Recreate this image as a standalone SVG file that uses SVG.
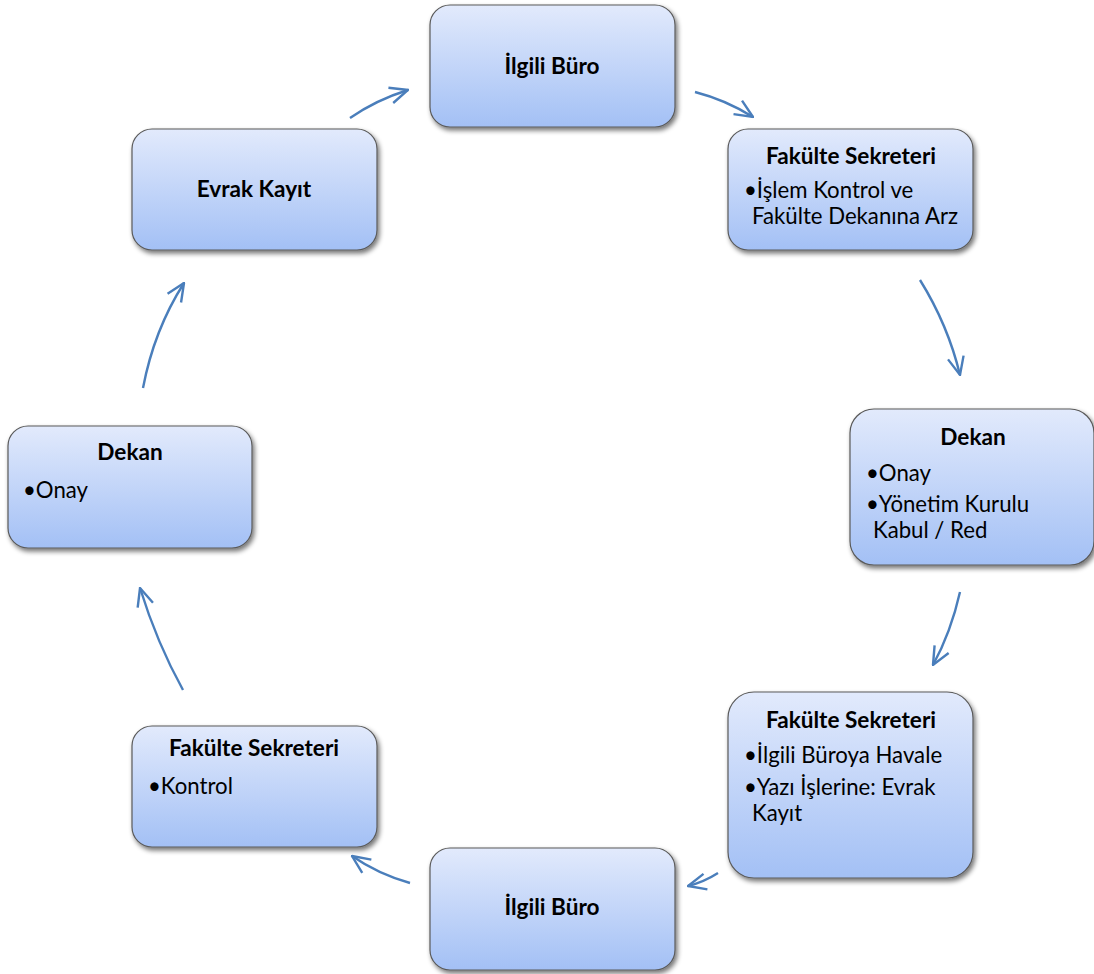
<svg xmlns="http://www.w3.org/2000/svg" width="1094" height="974" viewBox="0 0 1094 974">
<defs>
<linearGradient id="g" x1="0" y1="0" x2="0" y2="1">
<stop offset="0" stop-color="#e2eafc"/>
<stop offset="1" stop-color="#a3c0f5"/>
</linearGradient>
<filter id="sh" x="-10%" y="-10%" width="125%" height="130%">
<feGaussianBlur in="SourceAlpha" stdDeviation="2.5"/>
<feOffset dx="2" dy="3" result="b"/>
<feComponentTransfer><feFuncA type="linear" slope="0.55"/></feComponentTransfer>
<feMerge><feMergeNode/><feMergeNode in="SourceGraphic"/></feMerge>
</filter>
<marker id="ah" viewBox="0 0 20 20" refX="19" refY="10" markerWidth="20" markerHeight="20" markerUnits="userSpaceOnUse" orient="auto">
<path d="M1,2 L19,10 L1,18" fill="none" stroke="#4a7ebb" stroke-width="2.4" stroke-linejoin="miter"/>
</marker>
</defs>
<style>
.box{fill:url(#g);stroke:#5a5a5a;stroke-width:1.2;filter:url(#sh)}
.t{font-family:Lato,"Liberation Sans",sans-serif;font-weight:bold;font-size:22.6px;fill:#000}
.b{font-family:Lato,"Liberation Sans",sans-serif;font-size:22.2px;fill:#000}
.c{fill:none;stroke:#4a7ebb;stroke-width:2.4;marker-end:url(#ah)}
</style>
<rect width="1094" height="974" fill="#fff"/>
<g id="connectors">
<path class="c" d="M350,118 Q376,100 408,90"/>
<path class="c" d="M695,92 Q726,100 753,117"/>
<path class="c" d="M920,280 Q948,325 960,375"/>
<path class="c" d="M960,592 Q951,632 933,665"/>
<path class="c" d="M718,873 Q704,882 688,886"/>
<path class="c" d="M410,883 Q378,874 352,856"/>
<path class="c" d="M183,690 Q157,643 140,588"/>
<path class="c" d="M143,388 Q154,330 184,283"/>
</g>
<g id="n1">
<rect class="box" x="430" y="5" width="245" height="122" rx="20"/>
<text class="t" x="552" y="74" text-anchor="middle">İlgili Büro</text>
</g>
<g id="n2">
<rect class="box" x="728" y="129" width="245" height="121" rx="20"/>
<text class="t" x="851" y="164" text-anchor="middle">Fakülte Sekreteri</text>
<text class="b" x="744" y="198">•İşlem Kontrol ve</text>
<text class="b" x="752" y="224">Fakülte Dekanına Arz</text>
</g>
<g id="n3">
<rect class="box" x="850" y="409" width="244" height="156" rx="24"/>
<text class="t" x="973" y="445" text-anchor="middle">Dekan</text>
<text class="b" x="866" y="481">•Onay</text>
<text class="b" x="866" y="512">•Yönetim Kurulu</text>
<text class="b" x="873" y="538">Kabul / Red</text>
</g>
<g id="n4">
<rect class="box" x="728" y="692" width="245" height="186" rx="26"/>
<text class="t" x="851" y="728" text-anchor="middle">Fakülte Sekreteri</text>
<text class="b" x="744" y="763">•İlgili Büroya Havale</text>
<text class="b" x="744" y="795">•Yazı İşlerine: Evrak</text>
<text class="b" x="752" y="821">Kayıt</text>
</g>
<g id="n5">
<rect class="box" x="430" y="848" width="245" height="122" rx="20"/>
<text class="t" x="552" y="915" text-anchor="middle">İlgili Büro</text>
</g>
<g id="n6">
<rect class="box" x="132" y="726" width="245" height="121" rx="20"/>
<text class="t" x="254" y="756" text-anchor="middle">Fakülte Sekreteri</text>
<text class="b" x="148" y="794">•Kontrol</text>
</g>
<g id="n7">
<rect class="box" x="8" y="426" width="244" height="122" rx="20"/>
<text class="t" x="130" y="460" text-anchor="middle">Dekan</text>
<text class="b" x="23" y="498">•Onay</text>
</g>
<g id="n8">
<rect class="box" x="132" y="129" width="245" height="121" rx="20"/>
<text class="t" x="254" y="197" text-anchor="middle">Evrak Kayıt</text>
</g>
</svg>
